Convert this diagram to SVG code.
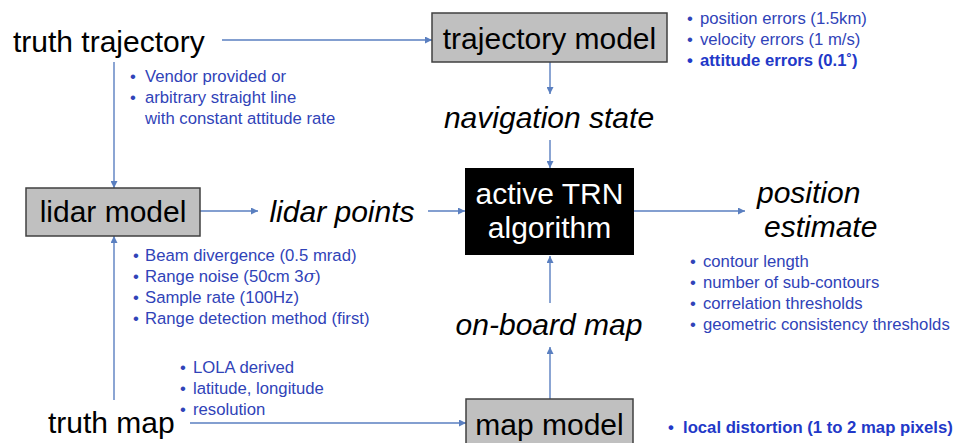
<svg xmlns="http://www.w3.org/2000/svg" width="964" height="443" viewBox="0 0 964 443">
<style>
.big{font-family:"Liberation Sans",Arial,sans-serif;font-size:30px;fill:#000}
.it{font-style:italic}
.wt{fill:#fff}
.b{font-family:"Liberation Sans",Arial,sans-serif;font-size:16.7px;fill:#3043b8}
.bb{font-weight:bold;fill:#2238c8}
.box{fill:#c0c0c0;stroke:#404040;stroke-width:1.5}
.ln{stroke:#5a7fc0;stroke-width:1.4;fill:none}
</style>
<defs>
<marker id="ah" viewBox="0 0 10 10" refX="10" refY="5" markerWidth="7" markerHeight="7" markerUnits="userSpaceOnUse" orient="auto">
<path d="M0,0 L10,5 L0,10 z" fill="#5a7fc0"/>
</marker>
</defs>
<rect width="964" height="443" fill="#fff"/>
<g id="connectors">
<line class="ln" x1="222" y1="40" x2="432" y2="40" marker-end="url(#ah)"/>
<line class="ln" x1="114" y1="62" x2="114" y2="188" marker-end="url(#ah)"/>
<line class="ln" x1="114" y1="400" x2="114" y2="236" marker-end="url(#ah)"/>
<line class="ln" x1="550" y1="62" x2="550" y2="94" marker-end="url(#ah)"/>
<line class="ln" x1="550" y1="140" x2="550" y2="168" marker-end="url(#ah)"/>
<line class="ln" x1="200" y1="211" x2="258" y2="211" marker-end="url(#ah)"/>
<line class="ln" x1="428" y1="211" x2="465" y2="211" marker-end="url(#ah)"/>
<line class="ln" x1="634" y1="211" x2="745" y2="211" marker-end="url(#ah)"/>
<line class="ln" x1="550" y1="303" x2="550" y2="256" marker-end="url(#ah)"/>
<line class="ln" x1="550" y1="399" x2="550" y2="347" marker-end="url(#ah)"/>
<line class="ln" x1="190" y1="423" x2="466" y2="423" marker-end="url(#ah)"/>
</g>
<g id="truth-trajectory"><text class="big" x="13" y="52">truth trajectory</text></g>
<g id="trajectory-model">
<rect class="box" x="432" y="13" width="235" height="49"/>
<text class="big" x="549.5" y="49" text-anchor="middle">trajectory model</text>
</g>
<g id="trajectory-notes">
<text class="b" x="687" y="24">•</text><text class="b" x="700" y="24">position errors (1.5km)</text>
<text class="b" x="687" y="45">•</text><text class="b" x="700" y="45">velocity errors (1 m/s)</text>
<text class="b bb" x="687" y="66">•</text><text class="b bb" x="700" y="66">attitude errors (0.1˚)</text>
</g>
<g id="truth-notes">
<text class="b" x="130" y="82">•</text><text class="b" x="145" y="82">Vendor provided or</text>
<text class="b" x="130" y="103">•</text><text class="b" x="145" y="103">arbitrary straight line</text>
<text class="b" x="145" y="124">with constant attitude rate</text>
</g>
<g id="navigation-state"><text class="big it" x="549" y="128" text-anchor="middle">navigation state</text></g>
<g id="lidar-model">
<rect class="box" x="26" y="188" width="174" height="48"/>
<text class="big" x="113" y="222" text-anchor="middle">lidar model</text>
</g>
<g id="lidar-points"><text class="big it" x="342" y="222" text-anchor="middle">lidar points</text></g>
<g id="trn">
<rect x="465" y="168" width="169" height="87" fill="#000"/>
<text class="big wt" x="549.5" y="204" text-anchor="middle">active TRN</text>
<text class="big wt" x="549.5" y="238" text-anchor="middle">algorithm</text>
</g>
<g id="position-estimate">
<text class="big it" x="757" y="203">position</text>
<text class="big it" x="764" y="237">estimate</text>
</g>
<g id="lidar-notes">
<text class="b" x="133" y="261">•</text><text class="b" x="145" y="261">Beam divergence (0.5 mrad)</text>
<text class="b" x="133" y="282">•</text><text class="b" x="145" y="282">Range noise (50cm 3<tspan font-family="'DejaVu Serif',serif" font-style="italic">σ</tspan>)</text>
<text class="b" x="133" y="303">•</text><text class="b" x="145" y="303">Sample rate (100Hz)</text>
<text class="b" x="133" y="324">•</text><text class="b" x="145" y="324">Range detection method (first)</text>
</g>
<g id="trn-notes">
<text class="b" x="690" y="267">•</text><text class="b" x="703" y="267">contour length</text>
<text class="b" x="690" y="288">•</text><text class="b" x="703" y="288">number of sub-contours</text>
<text class="b" x="690" y="309">•</text><text class="b" x="703" y="309">correlation thresholds</text>
<text class="b" x="690" y="330">•</text><text class="b" x="703" y="330">geometric consistency thresholds</text>
</g>
<g id="on-board-map"><text class="big it" x="549" y="335" text-anchor="middle">on-board map</text></g>
<g id="map-notes">
<text class="b" x="180" y="373">•</text><text class="b" x="193" y="373">LOLA derived</text>
<text class="b" x="180" y="394">•</text><text class="b" x="193" y="394">latitude, longitude</text>
<text class="b" x="180" y="415">•</text><text class="b" x="193" y="415">resolution</text>
</g>
<g id="truth-map"><text class="big" x="48" y="433">truth map</text></g>
<g id="map-model">
<rect class="box" x="466" y="399" width="167" height="50"/>
<text class="big" x="549.5" y="435" text-anchor="middle">map model</text>
</g>
<g id="map-model-notes">
<text class="b bb" x="668" y="433">•</text><text class="b bb" x="683" y="433">local distortion (1 to 2 map pixels)</text>
</g>
</svg>
